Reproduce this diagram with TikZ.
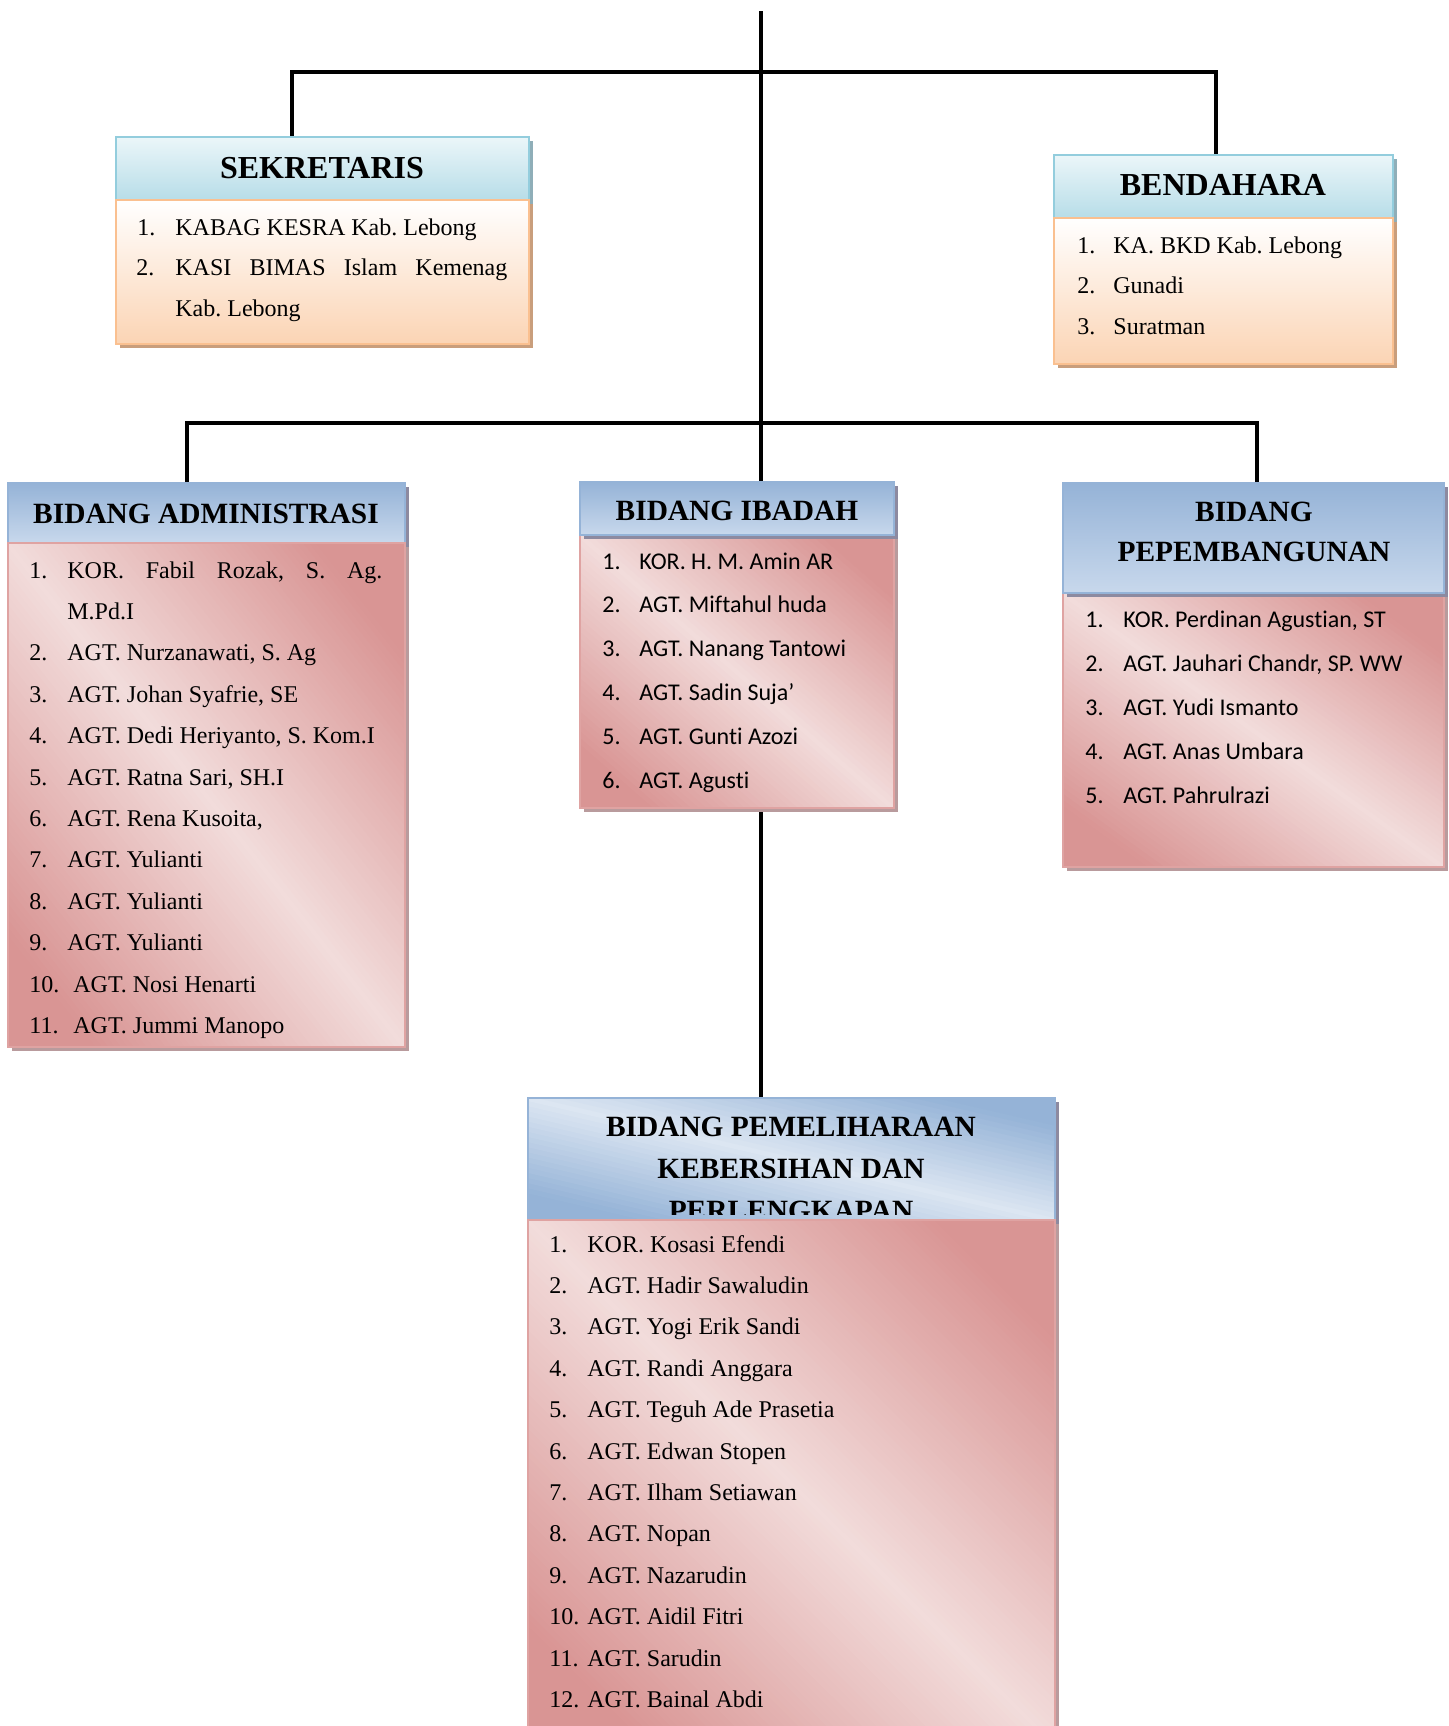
\documentclass[tikz,border=0pt]{standalone}
\usepackage{fontspec}
\setmainfont[Ligatures={TeX,NoCommon}]{Liberation Serif}
\newfontfamily\calfont[Ligatures=NoCommon]{Carlito}
\usetikzlibrary{shadows,fit}

\definecolor{hsTop}{HTML}{EBF6F9}
\definecolor{hsBot}{HTML}{B7DDE8}
\definecolor{hsLine}{HTML}{93CDDD}
\definecolor{hsShadow}{HTML}{8FAEB8}
\definecolor{bsTop}{HTML}{FFFFFF}
\definecolor{bsBot}{HTML}{FBD4B4}
\definecolor{bsLine}{HTML}{FAC090}
\definecolor{bsShadow}{HTML}{C99E7C}
\definecolor{hbDark}{HTML}{95B3D7}
\definecolor{hbLight}{HTML}{DCE6F2}
\definecolor{hbBot}{HTML}{C8D8EC}
\definecolor{hbLine}{HTML}{95B3D7}
\definecolor{hbShadow}{HTML}{8D8AA0}
\definecolor{pkDark}{HTML}{D99594}
\definecolor{pkLight}{HTML}{F2DCDB}
\definecolor{pkLine}{HTML}{DFA3A2}
\definecolor{pkShadow}{HTML}{B99B9D}

% box with a diagonal gradient (dark at top-right and bottom-left corners)
% #1 name, #2 x1, #3 y1, #4 x2, #5 y2, #6 dark, #7 light, #8 border, #9 shadow
\newcommand\diagbox[9]{%
  \fill[#9] ({#2+4},{#3+4}) rectangle ({#4+4},{#5+4});
  \begin{scope}
    \clip (#2,#3) rectangle (#4,#5);
    \fill[#6] (#2,#3) rectangle (#4,#5);
    \pgfmathsetmacro\dbcx{(#2+#4)/2}%
    \pgfmathsetmacro\dbcy{(#3+#5)/2}%
    \pgfmathsetmacro\dbw{(#4-#2)/100}%
    \pgfmathsetmacro\dbh{(#5-#3)/100}%
    \pgfmathsetmacro\dbdiag{sqrt(\dbw*\dbw+\dbh*\dbh)}%
    \pgfmathsetmacro\dbD{100*\dbw*\dbh/\dbdiag}%
    \pgfmathsetmacro\dbL{50*\dbdiag+20}%
    \pgfmathsetmacro\dbth{atan(\dbw/\dbh)}%
    \pgfmathtruncatemacro\dbN{\dbD/5+2}%
    \pgfmathtruncatemacro\dbM{-\dbN}%
    \foreach \k in {\dbM,...,\dbN} {
      \pgfmathsetmacro\dbp{min(100,(abs(\k)*5/\dbD)*128.2)}%
      \fill[#6!\dbp!#7, rotate around={\dbth:(\dbcx,\dbcy)}]
        ({\dbcx+\k*5-3},{\dbcy-\dbL}) rectangle ({\dbcx+\k*5+3},{\dbcy+\dbL});
    }
  \end{scope}
  \node[draw=#8, line width=1.2pt, inner sep=0pt, outer sep=0pt, fit={(#2,#3) (#4,#5)}] (#1) {};
}

\begin{document}
\frenchspacing
\begin{tikzpicture}[x=0.5pt,y=-0.5pt,
  conn/.style={line width=2pt, black},
  boxbase/.style={inner sep=0pt, outer sep=0pt, line width=1.2pt},
  hdrS/.style={boxbase, draw=hsLine, top color=hsTop, bottom color=hsBot,
    drop shadow={shadow xshift=2pt, shadow yshift=-2pt, fill=hsShadow, opacity=1}},
  bodS/.style={boxbase, draw=bsLine, top color=bsTop, bottom color=bsBot,
    drop shadow={shadow xshift=2pt, shadow yshift=-2pt, fill=bsShadow, opacity=1}},
  hdrB/.style={boxbase, draw=hbLine, top color=hbDark, middle color=hbLight, bottom color=hbBot,
    drop shadow={shadow xshift=2pt, shadow yshift=-2pt, fill=hbShadow, opacity=1}},
  tT/.style={inner sep=0pt, anchor=base west, font=\frenchspacing\fontsize{12}{14}\selectfont},
  tC/.style={inner sep=0pt, anchor=base west, font=\frenchspacing\calfont\fontsize{12}{14}\selectfont},
  ttlS/.style={inner sep=0pt, anchor=base, font=\bfseries\fontsize{16}{19}\selectfont},
  ttlB/.style={inner sep=0pt, anchor=base, font=\bfseries\fontsize{14.7}{17}\selectfont}
]
\useasboundingbox (0,0) rectangle (1448,1726);

% junction coordinates
\coordinate (top) at (761,11);
\coordinate (hl) at (292,72);
\coordinate (hr) at (1216,72);
\coordinate (ml) at (187,423);
\coordinate (mr) at (1257,423);

% ---------- connectors ----------
\draw[conn] (top) -- (761,482);
\draw[conn] (292,137) -- (hl) -- (hr) -- (1216,155);
\draw[conn] (187,483) -- (ml) -- (mr) -- (1257,483);
\draw[conn] (761,808) -- (761,1098);

% ---------- SEKRETARIS ----------
\node[hdrS, fit={(116,137) (529,200)}] (sekh) {};
\node[bodS, fit={(116,200) (529,344)}] (sekb) {};
\node[ttlS] (sekt) at (322,178) {SEKRETARIS};
\node[tT] (sek-n1) at (137,235) {1.};
\node[tT] (sek-t1) at (175,235) {KABAG KESRA Kab. Lebong};
\node[tT] (sek-n2) at (136,275.5) {2.};
\node[tT] (sek-t2) at (175,275.5) {\makebox[166pt][s]{KASI BIMAS Islam Kemenag}};
\node[tT] (sek-t2b) at (175,316) {Kab. Lebong};

% ---------- BENDAHARA ----------
\node[hdrS, fit={(1054,155) (1393,218)}] (benh) {};
\node[bodS, fit={(1054,218) (1393,364)}] (benb) {};
\node[ttlS] (bent) at (1223,195) {BENDAHARA};
\foreach \t [count=\i] in {KA. BKD Kab. Lebong, Gunadi, Suratman} {
  \node[tT] (ben-n\i) at (1077,{253+40.5*(\i-1)}) {\i.};
  \node[tT] (ben-t\i) at (1113,{253+40.5*(\i-1)}) {\t};
}

% ---------- BIDANG ADMINISTRASI ----------
\node[hdrB, fit={(8,483) (405,543)}] (admh) {};
\diagbox{admb}{8}{543}{405}{1047}{pkDark}{pkLight}{pkLine}{pkShadow}
\node[ttlB] (admt) at (206,523) {BIDANG ADMINISTRASI};
\node[tT] (adm-n1) at (29,578) {1.};
\node[tT] (adm-t1) at (67,578) {\makebox[157.5pt][s]{KOR. Fabil Rozak, S. Ag.}};
\node[tT] (adm-t1b) at (67,619.4) {M.Pd.I};
\foreach \t [count=\i from 2] in {{AGT. Nurzanawati, S. Ag}, {AGT. Johan Syafrie, SE},
   {AGT. Dedi Heriyanto, S. Kom.I}, {AGT. Ratna Sari, SH.I}, {AGT. Rena Kusoita,},
   AGT. Yulianti, AGT. Yulianti, AGT. Yulianti} {
  \node[tT] (adm-n\i) at (29,{578+41.4*\i}) {\i.};
  \node[tT] (adm-t\i) at (67,{578+41.4*\i}) {\t};
}
\node[tT] (adm-n10) at (29,{578+41.4*10}) {10.};
\node[tT] (adm-t10) at (73,{578+41.4*10}) {AGT. Nosi Henarti};
\node[tT] (adm-n11) at (29,{578+41.4*11}) {11.};
\node[tT] (adm-t11) at (73,{578+41.4*11}) {AGT. Jummi Manopo};

% ---------- BIDANG IBADAH ----------
\diagbox{ibb}{580}{535}{894}{808}{pkDark}{pkLight}{pkLine}{pkShadow}
\node[hdrB, fit={(580,482) (894,535)}] (ibh) {};
\node[ttlB] (ibt) at (737,520) {BIDANG IBADAH};
\foreach \t [count=\i] in {KOR. H. M. Amin AR, AGT. Miftahul huda, AGT. Nanang Tantowi,
   AGT. Sadin Suja’, AGT. Gunti Azozi, AGT. Agusti} {
  \node[tC] (iba-n\i) at (602,{569+43.8*(\i-1)}) {\i.};
  \node[tC] (iba-t\i) at (639,{569+43.8*(\i-1)}) {\t};
}

% ---------- BIDANG PEPEMBANGUNAN ----------
\diagbox{pemb}{1063}{593}{1444}{867}{pkDark}{pkLight}{pkLine}{pkShadow}
\node[hdrB, fit={(1063,483) (1444,593)}] (pemh) {};
\node[ttlB] (pemt1) at (1254,521) {BIDANG};
\node[ttlB] (pemt2) at (1254,561) {PEPEMBANGUNAN};
\foreach \t [count=\i] in {{KOR. Perdinan Agustian, ST}, {AGT. Jauhari Chandr, SP. WW},
   AGT. Yudi Ismanto, AGT. Anas Umbara, AGT. Pahrulrazi} {
  \node[tC] (pem-n\i) at (1085,{627+44*(\i-1)}) {\i.};
  \node[tC] (pem-t\i) at (1123,{627+44*(\i-1)}) {\t};
}

% ---------- BIDANG PEMELIHARAAN ----------
\diagbox{pmlh}{528}{1098}{1055}{1220}{hbDark}{hbLight}{hbLine}{hbShadow}
\begin{scope}
  \clip (528,1098) rectangle (1055,1214);
  \node[ttlB] (pmlt1) at (791,1136.5) {BIDANG PEMELIHARAAN};
  \node[ttlB] (pmlt2) at (791,1178.5) {KEBERSIHAN DAN};
  \node[ttlB] (pmlt3) at (791,1220.5) {PERLENGKAPAN};
\end{scope}
\diagbox{pmlb}{528}{1220}{1055}{1745}{pkDark}{pkLight}{pkLine}{pkShadow}
\foreach \t [count=\i] in {KOR. Kosasi Efendi, AGT. Hadir Sawaludin, AGT. Yogi Erik Sandi,
   AGT. Randi Anggara, AGT. Teguh Ade Prasetia, AGT. Edwan Stopen, AGT. Ilham Setiawan,
   AGT. Nopan, AGT. Nazarudin, AGT. Aidil Fitri, AGT. Sarudin, AGT. Bainal Abdi} {
  \node[tT] (pml-n\i) at (549,{1252+41.4*(\i-1)}) {\i.};
  \node[tT] (pml-t\i) at (587,{1252+41.4*(\i-1)}) {\t};
}
\end{tikzpicture}
\end{document}
